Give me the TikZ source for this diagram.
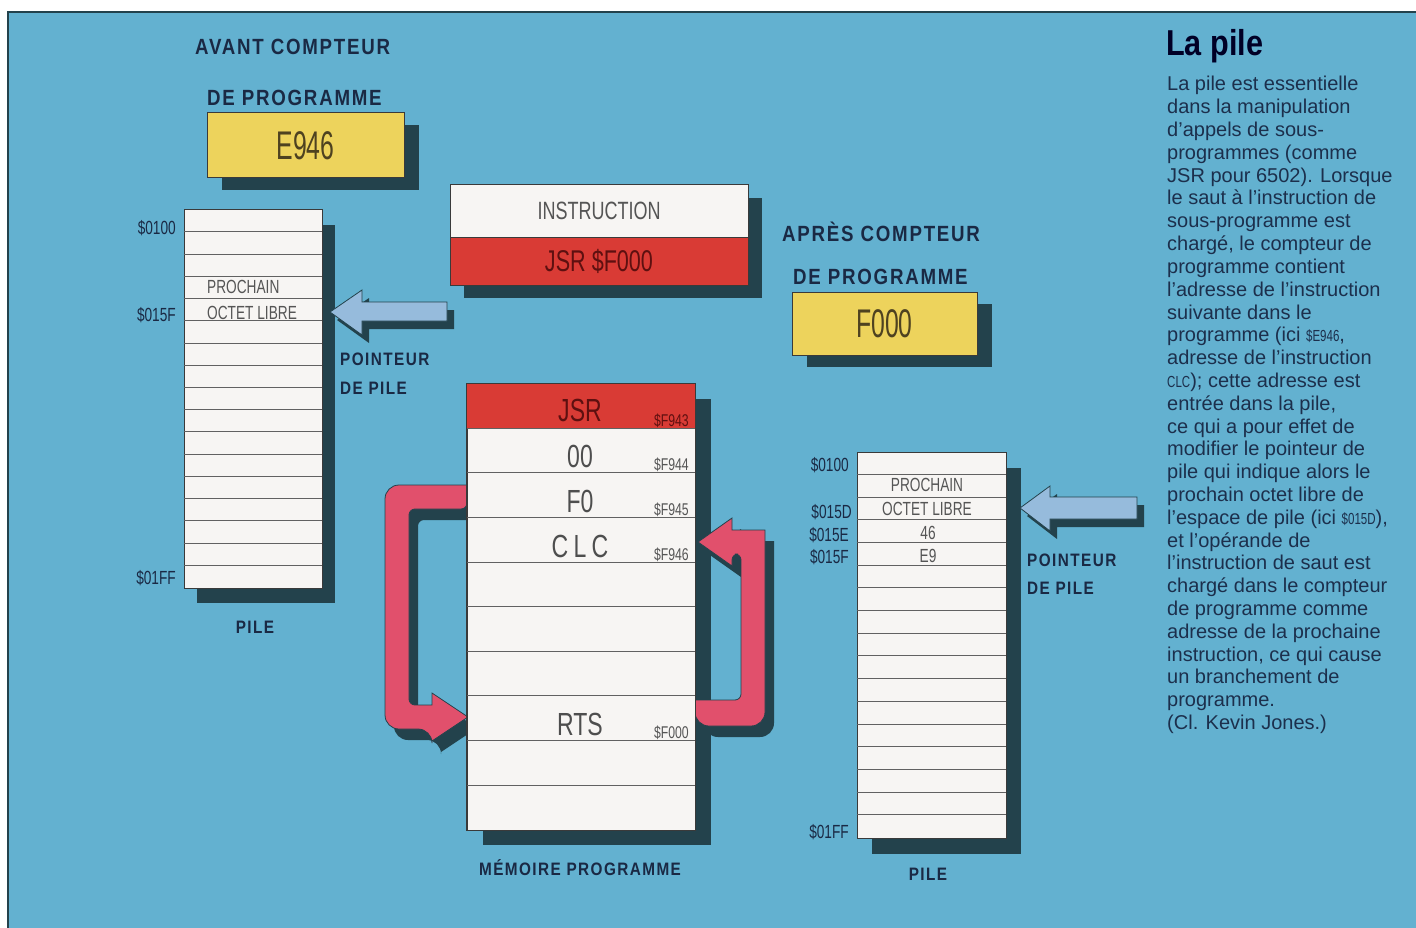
\documentclass[tikz,border=0pt]{standalone}
\usepackage{fontspec}
\setmainfont{Liberation Sans}
\newfontfamily\cond[FakeStretch=0.62]{Liberation Sans}
\newfontfamily\condw[FakeStretch=0.72]{Liberation Sans}
\newfontfamily\labf[FakeStretch=0.85,LetterSpace=8]{Liberation Sans}
\newfontfamily\titlef[FakeStretch=0.85]{Liberation Sans}
\usetikzlibrary{calc}
\definecolor{bg}{HTML}{63B1D0}
\definecolor{shad}{HTML}{23424C}
\definecolor{boxw}{HTML}{F7F5F3}
\definecolor{ink}{HTML}{1A2944}
\definecolor{bodyc}{HTML}{1C2F4C}
\definecolor{yel}{HTML}{EDD35C}
\definecolor{redc}{HTML}{D93B35}
\definecolor{pinkc}{HTML}{E1506C}
\definecolor{ptr}{HTML}{96BBDC}
\definecolor{grayt}{HTML}{555555}
\definecolor{linec}{HTML}{3A3A3A}
\definecolor{yt}{HTML}{4E4220}
\definecolor{rt}{HTML}{5E1010}
\begin{document}
\begin{tikzpicture}[x=1pt,y=-1pt,
  every node/.style={inner sep=0pt},
  lab21/.style={font=\labf\bfseries\fontsize{22}{25}\selectfont, text=ink},
  lab18/.style={font=\labf\bfseries\fontsize{18}{21}\selectfont, text=ink},
  pcbox/.style={draw=linec, line width=1, fill=yel, text=yt, font=\cond\fontsize{40}{40}\selectfont},
  stackbox/.style={draw=linec, line width=1, fill=boxw},
  rowline/.style={draw=linec!80, line width=0.8},
  stx/.style={font=\condw\fontsize{19}{19}\selectfont, text=grayt},
  adr/.style={font=\condw\fontsize{19}{19}\selectfont, text=ink},
  madr/.style={font=\condw\fontsize{17}{17}\selectfont, text=grayt, anchor=base east},
  mtx/.style={font=\condw\fontsize{32}{32}\selectfont, text=linec!90},
  shadowfill/.style={fill=shad},
  loopfill/.style={fill=pinkc, draw=shad, line width=0.8},
  ptrfill/.style={fill=ptr, draw=shad, line width=0.8},
  bodyt/.style={font=\fontsize{20}{22.8}\selectfont, text=bodyc, anchor=base west}
]
\useasboundingbox (0,0) rectangle (1416,928);
\fill[white] (0,0) rectangle (1416,928);
\fill[bg] (8,12) rectangle (1416,928);
\draw[shad, line width=1.5] (8,928) -- (8,12) -- (1416,12);

% ---------- shadows ----------
\fill[shadowfill] (222,125) rectangle (419,190);
\fill[shadowfill] (464,198) rectangle (762,298);
\fill[shadowfill] (807,304) rectangle (992,367);
\fill[shadowfill] (197,225) rectangle (335,603);
\fill[shadowfill] (872,468) rectangle (1021,854);
\fill[shadowfill] (483,399) rectangle (711,845);

% ---------- pink loops ----------
\begin{scope}[shift={(9,11)}]
\fill[shadowfill] (467,485) [rounded corners=14] -- (385,485) -- (385,729) -- (432,729) [sharp corners] -- (432,741) -- (468,717) -- (432,693) -- (432,705) [rounded corners=6] -- (409,705) -- (409,509) -- (467,509) [sharp corners] -- cycle;
\fill[shadowfill] (695,700) [rounded corners=6] -- (741,700) -- (741,554) -- (732,554) [sharp corners] -- (732,566) -- (698,542) -- (732,518) -- (732,530) -- (765,530) [rounded corners=14] -- (765,726) -- (695,726) [sharp corners] -- cycle;
\end{scope}
\path[loopfill] (467,485) [rounded corners=14] -- (385,485) -- (385,729) -- (432,729) [sharp corners] -- (432,741) -- (468,717) -- (432,693) -- (432,705) [rounded corners=6] -- (409,705) -- (409,509) -- (467,509) [sharp corners] -- cycle;
\path[loopfill] (695,700) [rounded corners=6] -- (741,700) -- (741,554) -- (732,554) [sharp corners] -- (732,566) -- (698,542) -- (732,518) -- (732,530) -- (765,530) [rounded corners=14] -- (765,726) -- (695,726) [sharp corners] -- cycle;

% ---------- pointer arrows ----------
\begin{scope}[shift={(7,8)}]
\fill[shadowfill] (330,312) -- (362,290) -- (362,302) -- (447,302) -- (447,321) -- (362,321) -- (362,335) -- cycle;
\fill[shadowfill] (1020,508) -- (1050,486) -- (1050,497) -- (1137,497) -- (1137,519) -- (1050,519) -- (1050,531) -- cycle;
\end{scope}
\path[ptrfill] (330,312) -- (362,290) -- (362,302) -- (447,302) -- (447,321) -- (362,321) -- (362,335) -- cycle;
\path[ptrfill] (1020,508) -- (1050,486) -- (1050,497) -- (1137,497) -- (1137,519) -- (1050,519) -- (1050,531) -- cycle;

% ---------- program counters ----------
\node[lab21, anchor=west] (avant) at (195,47) {AVANT COMPTEUR};
\node[lab21, anchor=west] (dep1) at (207,98) {DE PROGRAMME};
\node[pcbox, minimum width=197, minimum height=65] (pcA) at (305.5,145.5) {E946};
\node[lab21, anchor=west] (apres) at (782,232) {APRÈS COMPTEUR};
\node[lab21, anchor=west] (dep2) at (793,277) {DE PROGRAMME};
\node[pcbox, minimum width=185, minimum height=63] (pcB) at (884.5,323.5) {F000};

% ---------- instruction ----------
\node[stackbox, minimum width=298, minimum height=52, text=grayt, font=\condw\fontsize{25}{25}\selectfont] (ins) at (599,211) {INSTRUCTION};
\node[draw=linec, line width=1, fill=redc, minimum width=298, minimum height=48, text=rt, font=\condw\fontsize{30}{30}\selectfont] (jsr) at (599,261) {JSR \$F000};

% ---------- left stack ----------
\node[stackbox, minimum width=138, minimum height=378] (ls) at (253,399) {};
\foreach \k in {1,...,16} \draw[rowline] ($(ls.north west)+(0,{22.235*\k})$) -- ++(138,0);
\node[stx, anchor=west] (lsp) at (207,287) {PROCHAIN};
\node[stx, anchor=west] (lso) at (207,313) {OCTET LIBRE};
\node[adr, anchor=east] (la1) at (176,228) {\$0100};
\node[adr, anchor=east] (la2) at (176,315) {\$015F};
\node[adr, anchor=east] (la3) at (176,578) {\$01FF};
\node[lab18] (pile1) at (255,627) {PILE};
\node[lab18, anchor=west] (pt1) at (340,359) {POINTEUR};
\node[lab18, anchor=west] (pt1b) at (340,388) {DE PILE};

% ---------- memory ----------
\node[stackbox, minimum width=228, minimum height=446] (mem) at (581,607) {};
\fill[redc] (mem.north west) rectangle ++(228,44.6);
\foreach \k in {1,...,9} \draw[rowline] ($(mem.north west)+(0,{44.6*\k})$) -- ++(228,0);
\draw[linec, line width=1] (mem.north west) rectangle (mem.south east);
\node[mtx, text=rt] (m1) at (580,410) {JSR};
\node[mtx] (m2) at (580,456) {00};
\node[mtx] (m3) at (580,501) {F0};
\node[mtx] (m4) at (580,546) {C\,L\,C};
\node[mtx] (m8) at (580,724) {RTS};
\node[madr, text=rt] (a1) at (689,426) {\$F943};
\node[madr] (a2) at (689,470) {\$F944};
\node[madr] (a3) at (689,515) {\$F945};
\node[madr] (a4) at (689,560) {\$F946};
\node[madr] (a8) at (689,738) {\$F000};
\node[lab18] (memlab) at (580,868) {MÉMOIRE PROGRAMME};

% ---------- right stack ----------
\node[stackbox, minimum width=149, minimum height=386] (rs) at (931.5,645) {};
\foreach \k in {1,...,16} \draw[rowline] ($(rs.north west)+(0,{22.706*\k})$) -- ++(149,0);
\node[stx] (rsp) at (927,485) {PROCHAIN};
\node[stx] (rso) at (927,509) {OCTET LIBRE};
\node[stx] (rs4) at (928,533) {46};
\node[stx] (rs5) at (928,556) {E9};
\node[adr, anchor=east] (ra1) at (849,465) {\$0100};
\node[adr, anchor=east] (ra2) at (852,512) {\$015D};
\node[adr, anchor=east] (ra3) at (849,535) {\$015E};
\node[adr, anchor=east] (ra4) at (849,557) {\$015F};
\node[adr, anchor=east] (ra5) at (849,832) {\$01FF};
\node[lab18] (pile2) at (928,874) {PILE};
\node[lab18, anchor=west] (pt2) at (1027,560) {POINTEUR};
\node[lab18, anchor=west] (pt2b) at (1027,588) {DE PILE};

% ---------- text column ----------
\node[anchor=base west, font=\titlef\bfseries\fontsize{36}{36}\selectfont, text=black!85!blue] (title) at (1166,56) {La pile};
\foreach \t [count=\i] in {
 {La pile est essentielle},
 {dans la manipulation},
 {d’appels de sous-},
 {programmes (comme},
 {JSR pour 6502). Lorsque},
 {le saut à l’instruction de},
 {sous-programme est},
 {chargé, le compteur de},
 {programme contient},
 {l’adresse de l’instruction},
 {suivante dans le},
 {programme (ici {\condw\fontsize{16}{16}\selectfont\$E946},},
 {adresse de l’instruction},
 {{\condw\fontsize{16}{16}\selectfont CLC}); cette adresse est},
 {entrée dans la pile,},
 {ce qui a pour effet de},
 {modifier le pointeur de},
 {pile qui indique alors le},
 {prochain octet libre de},
 {l’espace de pile (ici {\condw\fontsize{16}{16}\selectfont\$015D}),},
 {et l’opérande de},
 {l’instruction de saut est},
 {chargé dans le compteur},
 {de programme comme},
 {adresse de la prochaine},
 {instruction, ce qui cause},
 {un branchement de},
 {programme.},
 {(Cl. Kevin Jones.)}}
 \node[bodyt] (body\i) at (1167,{91+22.8*(\i-1)}) {\t};
\end{tikzpicture}
\end{document}
